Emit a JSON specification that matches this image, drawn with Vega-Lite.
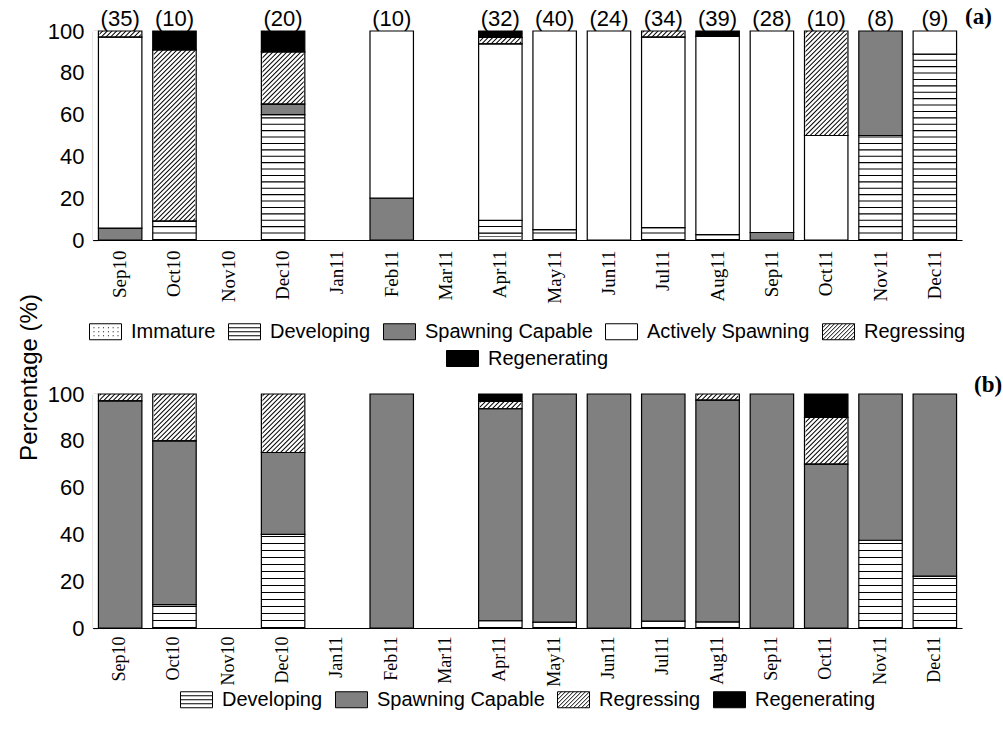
{
  "$schema": "https://vega.github.io/schema/vega-lite/v6.json",
  "background": "white",
  "padding": {"left": 17, "top": 6, "right": 2, "bottom": 2},
  "bounds": "flush",
  "spacing": 154,
  "config": {
    "font": "Liberation Sans",
    "view": {"stroke": null},
    "axis": {"domainColor": "black", "tickColor": "black", "labelColor": "black", "grid": false, "domainWidth": 1.2, "tickWidth": 1.2},
    "legend": {
      "orient": "bottom",
      "direction": "horizontal",
      "title": null,
      "symbolSize": 1024,
      "symbolStrokeColor": "black",
      "symbolStrokeWidth": 1,
      "symbolOpacity": 1,
      "labelFont": "Liberation Sans",
      "labelFontSize": 20,
      "labelColor": "black",
      "labelLimit": 400,
      "labelOffset": 9,
      "columnPadding": 10,
      "rowPadding": 0,
      "layout": {"bottom": {"anchor": "middle", "direction": "vertical", "center": true, "margin": 0}}
    }
  },
  "datasets": {
    "months": [
      {"month": "Sep10", "n": 35, "label": "(35)"},
      {"month": "Oct10", "n": 10, "label": "(10)"},
      {"month": "Nov10", "n": null, "label": null},
      {"month": "Dec10", "n": 20, "label": "(20)"},
      {"month": "Jan11", "n": null, "label": null},
      {"month": "Feb11", "n": 10, "label": "(10)"},
      {"month": "Mar11", "n": null, "label": null},
      {"month": "Apr11", "n": 32, "label": "(32)"},
      {"month": "May11", "n": 40, "label": "(40)"},
      {"month": "Jun11", "n": 24, "label": "(24)"},
      {"month": "Jul11", "n": 34, "label": "(34)"},
      {"month": "Aug11", "n": 39, "label": "(39)"},
      {"month": "Sep11", "n": 28, "label": "(28)"},
      {"month": "Oct11", "n": 10, "label": "(10)"},
      {"month": "Nov11", "n": 8, "label": "(8)"},
      {"month": "Dec11", "n": 9, "label": "(9)"}
    ],
    "phasesA": [
      {"month": "Sep10", "stage": "Spawning Capable", "pct": 5.7},
      {"month": "Sep10", "stage": "Actively Spawning", "pct": 91.4},
      {"month": "Sep10", "stage": "Regressing", "pct": 2.9},
      {"month": "Oct10", "stage": "Developing", "pct": 9},
      {"month": "Oct10", "stage": "Regressing", "pct": 82},
      {"month": "Oct10", "stage": "Regenerating", "pct": 9},
      {"month": "Dec10", "stage": "Developing", "pct": 60},
      {"month": "Dec10", "stage": "Spawning Capable", "pct": 5},
      {"month": "Dec10", "stage": "Regressing", "pct": 25},
      {"month": "Dec10", "stage": "Regenerating", "pct": 10},
      {"month": "Feb11", "stage": "Spawning Capable", "pct": 20},
      {"month": "Feb11", "stage": "Actively Spawning", "pct": 80},
      {"month": "Apr11", "stage": "Immature", "pct": 3.1},
      {"month": "Apr11", "stage": "Developing", "pct": 6.3},
      {"month": "Apr11", "stage": "Actively Spawning", "pct": 84.4},
      {"month": "Apr11", "stage": "Regressing", "pct": 3.1},
      {"month": "Apr11", "stage": "Regenerating", "pct": 3.1},
      {"month": "May11", "stage": "Developing", "pct": 5},
      {"month": "May11", "stage": "Actively Spawning", "pct": 95},
      {"month": "Jun11", "stage": "Actively Spawning", "pct": 100},
      {"month": "Jul11", "stage": "Developing", "pct": 5.9},
      {"month": "Jul11", "stage": "Actively Spawning", "pct": 91.2},
      {"month": "Jul11", "stage": "Regressing", "pct": 2.9},
      {"month": "Aug11", "stage": "Developing", "pct": 2.6},
      {"month": "Aug11", "stage": "Actively Spawning", "pct": 94.8},
      {"month": "Aug11", "stage": "Regenerating", "pct": 2.6},
      {"month": "Sep11", "stage": "Spawning Capable", "pct": 3.6},
      {"month": "Sep11", "stage": "Actively Spawning", "pct": 96.4},
      {"month": "Oct11", "stage": "Actively Spawning", "pct": 50},
      {"month": "Oct11", "stage": "Regressing", "pct": 50},
      {"month": "Nov11", "stage": "Developing", "pct": 50},
      {"month": "Nov11", "stage": "Spawning Capable", "pct": 50},
      {"month": "Dec11", "stage": "Developing", "pct": 88.9},
      {"month": "Dec11", "stage": "Actively Spawning", "pct": 11.1}
    ],
    "phasesB": [
      {"month": "Sep10", "stage": "Spawning Capable", "pct": 97.1},
      {"month": "Sep10", "stage": "Regressing", "pct": 2.9},
      {"month": "Oct10", "stage": "Developing", "pct": 10},
      {"month": "Oct10", "stage": "Spawning Capable", "pct": 70},
      {"month": "Oct10", "stage": "Regressing", "pct": 20},
      {"month": "Dec10", "stage": "Developing", "pct": 40},
      {"month": "Dec10", "stage": "Spawning Capable", "pct": 35},
      {"month": "Dec10", "stage": "Regressing", "pct": 25},
      {"month": "Feb11", "stage": "Spawning Capable", "pct": 100},
      {"month": "Apr11", "stage": "Developing", "pct": 3.1},
      {"month": "Apr11", "stage": "Spawning Capable", "pct": 90.6},
      {"month": "Apr11", "stage": "Regressing", "pct": 3.1},
      {"month": "Apr11", "stage": "Regenerating", "pct": 3.2},
      {"month": "May11", "stage": "Developing", "pct": 2.5},
      {"month": "May11", "stage": "Spawning Capable", "pct": 97.5},
      {"month": "Jun11", "stage": "Spawning Capable", "pct": 100},
      {"month": "Jul11", "stage": "Developing", "pct": 2.9},
      {"month": "Jul11", "stage": "Spawning Capable", "pct": 97.1},
      {"month": "Aug11", "stage": "Developing", "pct": 2.6},
      {"month": "Aug11", "stage": "Spawning Capable", "pct": 94.8},
      {"month": "Aug11", "stage": "Regressing", "pct": 2.6},
      {"month": "Sep11", "stage": "Spawning Capable", "pct": 100},
      {"month": "Oct11", "stage": "Spawning Capable", "pct": 70},
      {"month": "Oct11", "stage": "Regressing", "pct": 20},
      {"month": "Oct11", "stage": "Regenerating", "pct": 10},
      {"month": "Nov11", "stage": "Developing", "pct": 37.5},
      {"month": "Nov11", "stage": "Spawning Capable", "pct": 62.5},
      {"month": "Dec11", "stage": "Developing", "pct": 22.2},
      {"month": "Dec11", "stage": "Spawning Capable", "pct": 77.8}
    ]
  },
  "resolve": {
    "scale": {"y": "independent", "fill": "independent", "stroke": "independent"},
    "legend": {"fill": "independent", "stroke": "independent"}
  },
  "vconcat": [
    {
      "width": 869,
      "height": 209,
      "layer": [
        {
          "data": {"values": [{}]},
          "mark": {"type": "rule", "clip": true, "stroke": "black", "strokeWidth": 1000, "strokeDash": [1, 2.3], "strokeCap": "butt"},
          "encoding": {
            "x": {"datum": "Sep10", "type": "nominal", "bandPosition": -6},
            "x2": {"datum": "Dec11", "bandPosition": 7},
            "y": {"datum": 380, "type": "quantitative"},
            "y2": {"datum": -280}
          }
        },
        {
          "data": {"name": "months"},
          "mark": {"type": "rule", "clip": true, "stroke": "white", "strokeWidth": 13},
          "encoding": {
            "x": {"field": "month", "type": "nominal", "bandPosition": -0.125},
            "y": {"datum": 0, "type": "quantitative"},
            "y2": {"datum": 100}
          }
        },
        {
          "data": {"values": [{}]},
          "mark": {"type": "rule", "clip": true, "stroke": "white", "strokeWidth": 13},
          "encoding": {
            "x": {"datum": "Dec11", "type": "nominal", "bandPosition": 1.125},
            "y": {"datum": 0, "type": "quantitative"},
            "y2": {"datum": 100}
          }
        },
        {
          "data": {"name": "months"},
          "transform": [{"filter": "datum.n == null"}],
          "mark": {"type": "bar", "fill": "white", "stroke": "white", "strokeWidth": 3, "clip": true},
          "encoding": {
            "x": {"field": "month", "type": "nominal"},
            "y": {"datum": 0, "type": "quantitative"},
            "y2": {"datum": 100}
          }
        },
        {
          "data": {"name": "phasesA"},
          "transform": [{"stack": "pct", "groupby": ["month"], "as": ["y0", "y1"]}, {"filter": "datum.stage !== 'Regenerating'"}],
          "mark": {"type": "bar", "stroke": "black", "strokeWidth": 1.2},
          "encoding": {
            "x": {
              "field": "month", "type": "nominal",
              "scale": {"domain": ["Sep10", "Oct10", "Nov10", "Dec10", "Jan11", "Feb11", "Mar11", "Apr11", "May11", "Jun11", "Jul11", "Aug11", "Sep11", "Oct11", "Nov11", "Dec11"], "paddingInner": 0.2, "paddingOuter": 0.1},
              "axis": {"title": null, "labelAngle": -90, "labelFont": "Liberation Serif", "labelFontSize": 19, "labelPadding": 15, "tickSize": -5}
            },
            "y": {
              "field": "y0", "type": "quantitative",
              "scale": {"domain": [0, 100], "nice": false},
              "axis": {"values": [0, 20, 40, 60, 80, 100], "labelFontSize": 22, "labelPadding": 14, "tickSize": -5,
                "title": "Percentage (%)", "titleFont": "Liberation Sans", "titleFontSize": 24, "titleFontWeight": "normal", "titleColor": "black",
                "titleAngle": -90, "titleX": -64, "titleY": 346, "titleBaseline": "middle", "titleAlign": "center"}
            },
            "y2": {"field": "y1"},
            "fill": {
              "field": "stage", "type": "nominal",
              "scale": {"domain": ["Immature", "Developing", "Spawning Capable", "Actively Spawning", "Regressing"], "range": ["white", "white", "#808080", "white", "transparent"]},
              "legend": {
                "labelLimit": 400,
                "offset": 11,
                "encode": {"symbols": {"update": {"shape": {"signal": "datum.value === 'Immature' ? 'M-1,-0.5H1V0.5H-1ZM-0.75,-0.25h0.06M-0.45,-0.25h0.06M-0.15,-0.25h0.06M0.15,-0.25h0.06M0.45,-0.25h0.06M0.75,-0.25h0.06M-0.75,0h0.06M-0.45,0h0.06M-0.15,0h0.06M0.15,0h0.06M0.45,0h0.06M0.75,0h0.06M-0.75,0.25h0.06M-0.45,0.25h0.06M-0.15,0.25h0.06M0.15,0.25h0.06M0.45,0.25h0.06M0.75,0.25h0.06' : datum.value === 'Developing' ? 'M-1,-0.5H1V0.5H-1ZM-1,-0.25H1M-1,0H1M-1,0.25H1' : datum.value === 'Regressing' ? 'M-1,-0.5H1V0.5H-1ZM-1,-0.25L-0.75,-0.5M-1,0L-0.5,-0.5M-1,0.25L-0.25,-0.5M-1,0.5L0,-0.5M-0.75,0.5L0.25,-0.5M-0.5,0.5L0.5,-0.5M-0.25,0.5L0.75,-0.5M0,0.5L1,-0.5M0.25,0.5L1,-0.25M0.5,0.5L1,0M0.75,0.5L1,0.25' : 'M-1,-0.5H1V0.5H-1Z'"}}}}
              }
            }
          }
        },
        {
          "data": {"name": "phasesA"},
          "transform": [{"stack": "pct", "groupby": ["month"], "as": ["y0", "y1"]}, {"filter": "datum.stage === 'Regenerating'"}],
          "mark": {"type": "bar", "fill": "black", "strokeWidth": 1.2},
          "encoding": {
            "x": {"field": "month", "type": "nominal"},
            "y": {"field": "y0", "type": "quantitative"},
            "y2": {"field": "y1"},
            "stroke": {
              "field": "stage", "type": "nominal",
              "scale": {"domain": ["Regenerating"], "range": ["black"]},
              "legend": {
                "labelLimit": 400,
                "offset": 11,
                "symbolType": "M-1,-0.5H1V0.5H-1Z",
                "encode": {"symbols": {"update": {"shape": {"signal": "'M-1,-0.5H1V0.5H-1Z'"}, "fill": {"value": "black"}, "stroke": {"value": "black"}}}}
              }
            }
          }
        },
        {
          "data": {"name": "phasesA"},
          "transform": [{"stack": "pct", "groupby": ["month"], "as": ["y0", "y1"]}, {"filter": "datum.stage === 'Developing'"}],
          "mark": {"type": "rule", "stroke": "black", "strokeWidth": 43.4, "strokeDash": [1.1, 5.3], "strokeCap": "butt"},
          "encoding": {
            "x": {"field": "month", "type": "nominal"},
            "y": {"field": "y0", "type": "quantitative"},
            "y2": {"field": "y1"}
          }
        },
        {
          "data": {"name": "phasesA"},
          "transform": [{"stack": "pct", "groupby": ["month"], "as": ["y0", "y1"]}, {"filter": "datum.stage === 'Immature'"}],
          "mark": {"type": "rule", "stroke": "#666", "strokeWidth": 43.4, "strokeDash": [1, 2], "strokeCap": "butt"},
          "encoding": {
            "x": {"field": "month", "type": "nominal"},
            "y": {"field": "y0", "type": "quantitative"},
            "y2": {"field": "y1"}
          }
        },
        {
          "data": {"name": "months"},
          "transform": [{"filter": "datum.n != null"}],
          "mark": {"type": "text", "fontSize": 22, "baseline": "alphabetic", "dy": -5, "color": "black"},
          "encoding": {
            "x": {"field": "month", "type": "nominal"},
            "y": {"datum": 100, "type": "quantitative"},
            "text": {"field": "label"}
          }
        },
        {
          "data": {"values": [{"panel": "(a)"}]},
          "mark": {"type": "text", "font": "Liberation Serif", "fontWeight": "bold", "fontSize": 23, "align": "left", "baseline": "alphabetic", "dx": 3, "dy": -7, "color": "black"},
          "encoding": {
            "x": {"value": "width"},
            "y": {"datum": 100, "type": "quantitative"},
            "text": {"field": "panel"}
          }
        }
      ]
    },
    {
      "width": 869,
      "height": 234,
      "layer": [
        {
          "data": {"values": [{}]},
          "mark": {"type": "rule", "clip": true, "stroke": "black", "strokeWidth": 1000, "strokeDash": [1, 2.3], "strokeCap": "butt"},
          "encoding": {
            "x": {"datum": "Sep10", "type": "nominal", "bandPosition": -6},
            "x2": {"datum": "Dec11", "bandPosition": 7},
            "y": {"datum": 344.8, "type": "quantitative"},
            "y2": {"datum": -244.8}
          }
        },
        {
          "data": {"name": "months"},
          "mark": {"type": "rule", "clip": true, "stroke": "white", "strokeWidth": 13},
          "encoding": {
            "x": {"field": "month", "type": "nominal", "bandPosition": -0.125},
            "y": {"datum": 0, "type": "quantitative"},
            "y2": {"datum": 100}
          }
        },
        {
          "data": {"values": [{}]},
          "mark": {"type": "rule", "clip": true, "stroke": "white", "strokeWidth": 13},
          "encoding": {
            "x": {"datum": "Dec11", "type": "nominal", "bandPosition": 1.125},
            "y": {"datum": 0, "type": "quantitative"},
            "y2": {"datum": 100}
          }
        },
        {
          "data": {"name": "months"},
          "transform": [{"filter": "datum.n == null"}],
          "mark": {"type": "bar", "fill": "white", "stroke": "white", "strokeWidth": 3, "clip": true},
          "encoding": {
            "x": {"field": "month", "type": "nominal"},
            "y": {"datum": 0, "type": "quantitative"},
            "y2": {"datum": 100}
          }
        },
        {
          "data": {"name": "phasesB"},
          "transform": [{"stack": "pct", "groupby": ["month"], "as": ["y0", "y1"]}],
          "mark": {"type": "bar", "stroke": "black", "strokeWidth": 1.2},
          "encoding": {
            "x": {
              "field": "month", "type": "nominal",
              "scale": {"domain": ["Sep10", "Oct10", "Nov10", "Dec10", "Jan11", "Feb11", "Mar11", "Apr11", "May11", "Jun11", "Jul11", "Aug11", "Sep11", "Oct11", "Nov11", "Dec11"], "paddingInner": 0.2, "paddingOuter": 0.1},
              "axis": {"title": null, "labelAngle": -90, "labelFont": "Liberation Serif", "labelFontSize": 18, "labelPadding": 13, "tickSize": -5}
            },
            "y": {
              "field": "y0", "type": "quantitative",
              "scale": {"domain": [0, 100], "nice": false},
              "axis": {"values": [0, 20, 40, 60, 80, 100], "labelFontSize": 22, "labelPadding": 14, "tickSize": -5, "title": null}
            },
            "y2": {"field": "y1"},
            "fill": {
              "field": "stage", "type": "nominal",
              "scale": {"domain": ["Developing", "Spawning Capable", "Regressing", "Regenerating"], "range": ["white", "#808080", "transparent", "black"]},
              "legend": {
                "labelLimit": 400,
                "offset": -4,
                "encode": {"symbols": {"update": {"shape": {"signal": "datum.value === 'Developing' ? 'M-1,-0.5H1V0.5H-1ZM-1,-0.25H1M-1,0H1M-1,0.25H1' : datum.value === 'Regressing' ? 'M-1,-0.5H1V0.5H-1ZM-1,-0.25L-0.75,-0.5M-1,0L-0.5,-0.5M-1,0.25L-0.25,-0.5M-1,0.5L0,-0.5M-0.75,0.5L0.25,-0.5M-0.5,0.5L0.5,-0.5M-0.25,0.5L0.75,-0.5M0,0.5L1,-0.5M0.25,0.5L1,-0.25M0.5,0.5L1,0M0.75,0.5L1,0.25' : 'M-1,-0.5H1V0.5H-1Z'"}}}}
              }
            }
          }
        },
        {
          "data": {"name": "phasesB"},
          "transform": [{"stack": "pct", "groupby": ["month"], "as": ["y0", "y1"]}, {"filter": "datum.stage === 'Developing'"}],
          "mark": {"type": "rule", "stroke": "black", "strokeWidth": 43.4, "strokeDash": [1.1, 5.9], "strokeCap": "butt"},
          "encoding": {
            "x": {"field": "month", "type": "nominal"},
            "y": {"field": "y0", "type": "quantitative"},
            "y2": {"field": "y1"}
          }
        },
        {
          "data": {"values": [{"panel": "(b)"}]},
          "mark": {"type": "text", "font": "Liberation Serif", "fontWeight": "bold", "fontSize": 23, "align": "left", "baseline": "alphabetic", "dx": 12, "dy": -2, "color": "black"},
          "encoding": {
            "x": {"value": "width"},
            "y": {"datum": 100, "type": "quantitative"},
            "text": {"field": "panel"}
          }
        }
      ]
    }
  ]
}
